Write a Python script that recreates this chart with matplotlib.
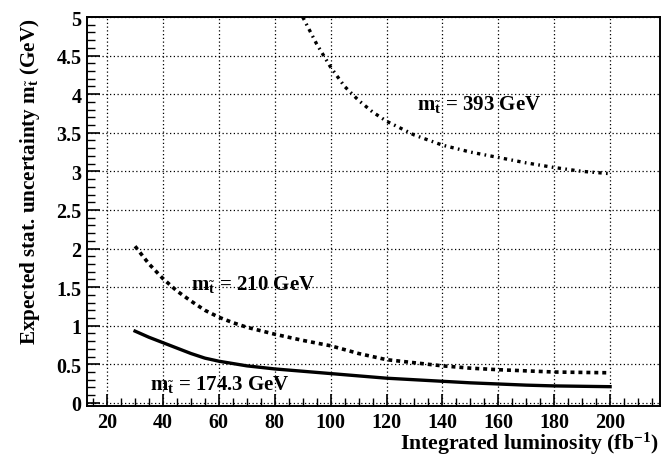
import matplotlib
matplotlib.use("Agg")
import matplotlib.pyplot as plt
from matplotlib.ticker import MultipleLocator

plt.rcParams['font.family'] = ['Liberation Serif', 'DejaVu Serif']
plt.rcParams['font.weight'] = 'bold'
plt.rcParams['mathtext.fontset'] = 'custom'
plt.rcParams['mathtext.rm'] = 'Liberation Serif:bold'
plt.rcParams['mathtext.it'] = 'Liberation Serif:bold'
plt.rcParams['mathtext.bf'] = 'Liberation Serif:bold'

# integrated luminosity (fb^-1) and stat. uncertainty (GeV) per stop mass
lumi_1743 = [30, 35, 40, 45, 50, 55, 60, 65, 70, 80, 90, 100, 110, 120, 130, 140, 150, 160, 170, 180, 190, 200]
unc_1743 = [0.93, 0.85, 0.78, 0.71, 0.64, 0.58, 0.54, 0.51, 0.48, 0.44, 0.41, 0.38, 0.35, 0.32,
            0.30, 0.28, 0.26, 0.245, 0.23, 0.22, 0.215, 0.21]

lumi_210 = [30, 35, 40, 45, 50, 55, 60, 65, 70, 80, 90, 100, 110, 120, 130, 140, 150, 160, 170, 180, 190, 200]
unc_210 = [2.03, 1.80, 1.61, 1.45, 1.32, 1.20, 1.11, 1.04, 0.98, 0.89, 0.81, 0.74, 0.64, 0.56,
           0.52, 0.48, 0.45, 0.43, 0.415, 0.40, 0.395, 0.39]

lumi_393 = [90, 95, 100, 105, 110, 115, 120, 130, 140, 150, 160, 170, 180, 190, 200]
unc_393 = [5.0, 4.65, 4.35, 4.1, 3.92, 3.77, 3.65, 3.47, 3.34, 3.25, 3.18, 3.11, 3.05, 3.0, 2.97]

fig = plt.figure(figsize=(6.61, 4.56), dpi=100)
ax = fig.add_axes([0.1316, 0.1075, 0.867, 0.853])

ax.plot(lumi_1743, unc_1743, color='black', lw=2.4, ls='-')
ax.plot(lumi_210, unc_210, color='black', lw=2.6, ls=(0, (1.1, 1.1)))
ax.plot(lumi_393, unc_393, color='black', lw=2.4, ls=(0, (1.0, 1.3, 0.5, 1.3)))

ax.set_xlim(12.8, 217.9)
ax.set_ylim(-0.04, 5)
ax.xaxis.set_minor_locator(MultipleLocator(5))
ax.yaxis.set_minor_locator(MultipleLocator(0.1))
ax.set_yticks([0, 0.5, 1, 1.5, 2, 2.5, 3, 3.5, 4, 4.5, 5])
ax.set_yticklabels(['0', '0.5', '1', '1.5', '2', '2.5', '3', '3.5', '4', '4.5', '5'])
ax.set_xticks(range(20, 201, 20))

ax.tick_params(which='both', direction='in', top=False, right=False, labelsize=14.5)
ax.tick_params(which='major', length=9, width=1.2)
ax.tick_params(which='minor', length=5.5, width=1.0)
ax.tick_params(axis='x', pad=4)
ax.tick_params(axis='y', pad=4)
for sp in ax.spines.values():
    sp.set_linewidth(1.4)

ax.grid(True, which='major', color='black', ls=(0, (1, 2)), lw=0.9)

ax.text(131, 3.81, r'm$_{\tilde{t}}$ = 393 GeV', fontsize=15, ha='left', va='baseline')
ax.text(50, 1.48, r'm$_{\tilde{t}}$ = 210 GeV', fontsize=15, ha='left', va='baseline')
ax.text(35.4, 0.18, r'm$_{\tilde{t}}$ = 174.3 GeV', fontsize=15, ha='left', va='baseline')

fig.text(658 / 661, 1 - 450 / 456, r'Integrated luminosity (fb$^{-1}$)', fontsize=15.7,
         fontweight='bold', ha='right', va='baseline')
fig.text(30 / 661, 1 - 19 / 456, r'Expected stat. uncertainty m$_{\tilde{t}}$ (GeV)', fontsize=15.2,
         fontweight='bold', rotation=90, ha='center', va='top')

fig.savefig('out.png', dpi=100)
